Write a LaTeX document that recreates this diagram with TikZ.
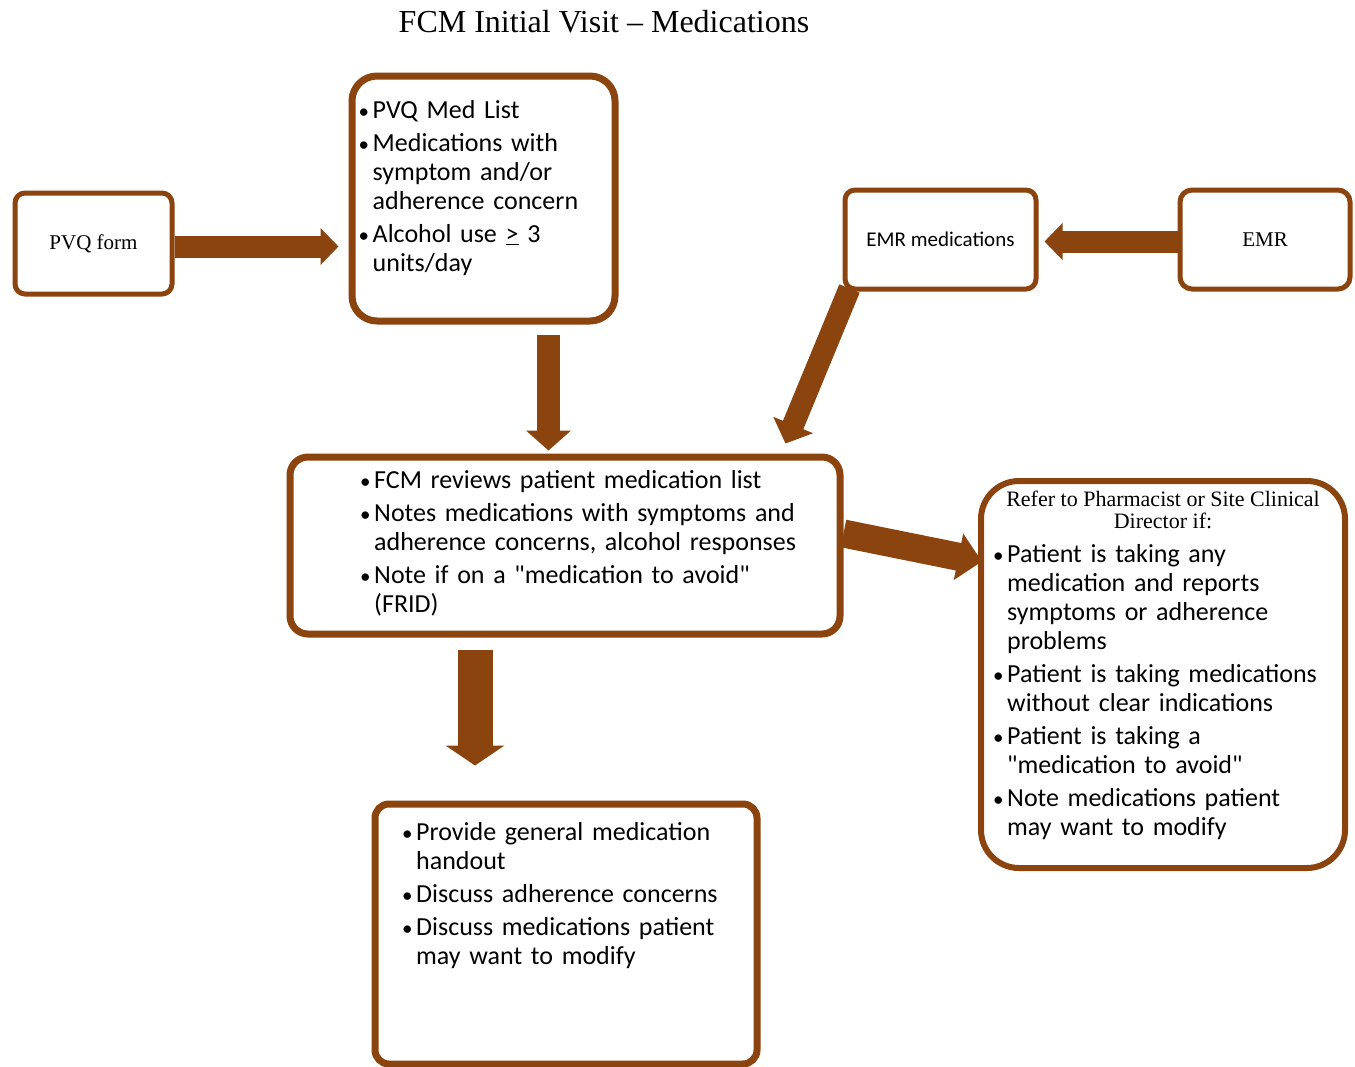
\documentclass[tikz,border=0pt]{standalone}
\usepackage{fontspec}
\setmainfont{Liberation Serif}
\setsansfont{Carlito}
\usetikzlibrary{arrows.meta,positioning}

\definecolor{medbrown}{RGB}{139,68,14}
\newcommand{\bul}{\par\parskip=4pt\noindent\hangindent=14pt\hangafter=1\makebox[14pt][l]{\fontsize{21}{21}\selectfont\textbullet}}

\begin{document}
\begin{tikzpicture}[x=1pt, y=-1pt,
  box/.style={draw=medbrown, fill=white, line width=5pt, rounded corners=10pt, inner sep=0pt, anchor=north west},
  thickbox/.style={box, line width=7pt},
  serif/.style={font=\fontsize{21}{22}\selectfont},
  sans/.style={font=\sffamily\fontsize{21}{22}\selectfont},
  bullets/.style={font=\sffamily\fontsize{26}{29}\selectfont, align=left, inner sep=0pt, anchor=north west, text width=#1},
  bigarrow/.style={medbrown, line width=22pt, -{Triangle[length=18pt,width=36pt]}}]
\useasboundingbox (0,0) rectangle (1355,1066);

\node[font=\fontsize{32}{34}\selectfont] (title) at (604,22) {FCM Initial Visit – Medications};

% boxes
\node[box, serif, minimum width=157pt, minimum height=101pt] (pvq) at (12.5,190.5) {PVQ form};
\node[thickbox, rounded corners=25pt, minimum width=263pt, minimum height=245pt] (medlist) at (348.5,72.5) {};
\node[box, sans, minimum width=191pt, minimum height=99pt] (emrmeds) at (842.5,187.5) {EMR medications};
\node[box, serif, rounded corners=12pt, minimum width=170pt, minimum height=99pt] (emr) at (1177.5,187.5) {EMR};
\node[thickbox, rounded corners=18pt, minimum width=550pt, minimum height=177pt] (fcm) at (286.5,453.5) {};
\node[box, line width=6pt, rounded corners=38pt, minimum width=364pt, minimum height=387pt] (refer) at (978,478) {};
\node[thickbox, rounded corners=14pt, minimum width=382pt, minimum height=260pt] (handout) at (371.5,800.5) {};

% texts
\node[bullets=260pt] (medlisttext) at ([shift={(10,13)}]medlist.north west)
  {\bul PVQ Med List
   \bul Medications with\newline symptom and/or\newline adherence concern
   \bul Alcohol use \underline{>} 3\newline units/day\par};
\node[bullets=500pt] (fcmtext) at ([shift={(73.5,1.5)}]fcm.north west)
  {\bul FCM reviews patient medication list
   \bul Notes medications with symptoms and\newline adherence concerns, alcohol responses
   \bul Note if on a \textquotedbl medication to avoid\textquotedbl\newline (FRID)\par};
\node[font=\fontsize{22}{22}\selectfont, align=center] (refertitle) at ([shift={(0,32)}]refer.north)
  {Refer to Pharmacist or Site Clinical\\Director if:};
\node[bullets=350pt] (refertext) at ([shift={(15,51)}]refer.north west)
  {\bul Patient is taking any\newline medication and reports\newline symptoms or adherence\newline problems
   \bul Patient is taking medications\newline without clear indications
   \bul Patient is taking a\newline \textquotedbl medication to avoid\textquotedbl
   \bul Note medications patient\newline may want to modify\par};
\node[bullets=370pt] (handouttext) at ([shift={(30.5,6.5)}]handout.north west)
  {\bul Provide general medication\newline handout
   \bul Discuss adherence concerns
   \bul Discuss medications patient\newline may want to modify\par};

% arrows
\draw[bigarrow] ([yshift=-3pt]pvq.east) -- ([xshift=-10pt, yshift=-3pt]pvq.east -| medlist.west);
\draw[bigarrow, line width=23pt, -{Triangle[length=20pt,width=44pt]}, shorten <=10pt, shorten >=3pt]
  ([xshift=65pt]medlist.south) -- ([xshift=65pt]medlist.south |- fcm.north);
\draw[bigarrow, shorten >=6pt] ([yshift=-2pt]emr.west) -- ([yshift=-2pt]emrmeds.east);
\draw[bigarrow, -{Triangle[length=20pt,width=42pt]}]
  ([shift={(7,-3)}]emrmeds.south west) -- ([shift={(-58,-10)}]fcm.north east);
\draw[bigarrow, line width=28pt, -{Triangle[length=24pt,width=46pt]}]
  ([yshift=12pt]fcm.east) -- ([shift={(4,-113)}]refer.west);
\draw[bigarrow, line width=35pt, -{Triangle[length=20pt,width=58pt]}, shorten <=12pt, shorten >=35pt]
  ([xshift=-90pt]fcm.south) -- ([xshift=-90pt]fcm.south |- handout.north);
\end{tikzpicture}
\end{document}
